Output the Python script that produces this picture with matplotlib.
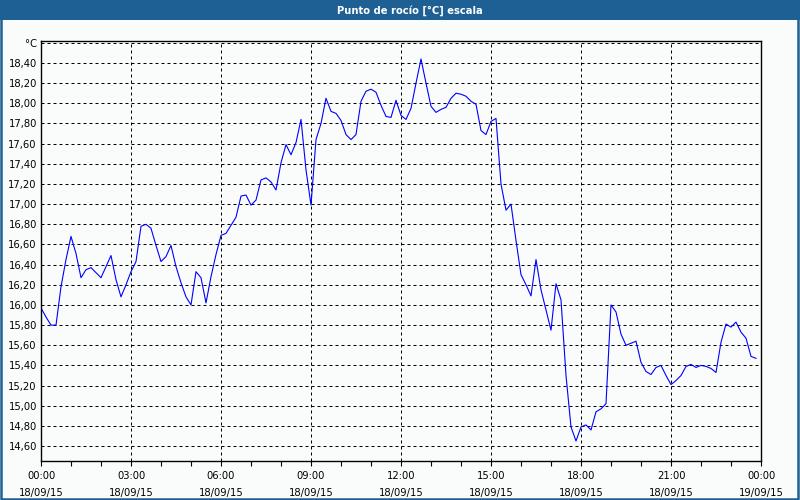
import matplotlib
matplotlib.use("Agg")
import matplotlib.pyplot as plt
import matplotlib.dates as mdates
from matplotlib.patches import Rectangle
import numpy as np
import pandas as pd

title = "Punto de rocío [°C] escala"
start = "2015-09-18 00:00"
step_minutes = 10
dew_point = [
    15.97, 15.88, 15.80, 15.80, 16.18, 16.45, 16.68, 16.51, 16.27, 16.35,
    16.37, 16.32, 16.27, 16.38, 16.49, 16.25, 16.08, 16.20, 16.33, 16.43,
    16.78, 16.80, 16.76, 16.59, 16.43, 16.48, 16.59, 16.38, 16.22, 16.08,
    16.00, 16.33, 16.27, 16.02, 16.28, 16.50, 16.69, 16.71, 16.79, 16.87,
    17.08, 17.09, 16.99, 17.04, 17.24, 17.26, 17.22, 17.14, 17.41, 17.59,
    17.49, 17.61, 17.84, 17.34, 16.99, 17.64, 17.80, 18.05, 17.92, 17.90,
    17.83, 17.69, 17.64, 17.69, 18.02, 18.12, 18.14, 18.11, 17.98, 17.87,
    17.86, 18.03, 17.88, 17.84, 17.95, 18.20, 18.44, 18.20, 17.97, 17.91,
    17.94, 17.96, 18.05, 18.10, 18.09, 18.07, 18.02, 17.99, 17.73, 17.69,
    17.82, 17.85, 17.20, 16.94, 17.00, 16.64, 16.30, 16.20, 16.09, 16.45,
    16.15, 15.95, 15.75, 16.21, 16.05, 15.30, 14.79, 14.65, 14.79, 14.81,
    14.76, 14.94, 14.97, 15.02, 16.00, 15.93, 15.71, 15.60, 15.62, 15.64,
    15.43, 15.34, 15.31, 15.38, 15.40, 15.30, 15.21, 15.25, 15.30, 15.39,
    15.41, 15.38, 15.40, 15.39, 15.37, 15.33, 15.63, 15.81, 15.78, 15.83,
    15.73, 15.67, 15.49, 15.47,
]
y_ticks = [14.6, 14.8, 15.0, 15.2, 15.4, 15.6, 15.8, 16.0, 16.2, 16.4,
           16.6, 16.8, 17.0, 17.2, 17.4, 17.6, 17.8, 18.0, 18.2, 18.4, 18.6]
y_tick_labels = ["14,60", "14,80", "15,00", "15,20", "15,40", "15,60", "15,80",
                 "16,00", "16,20", "16,40", "16,60", "16,80", "17,00", "17,20",
                 "17,40", "17,60", "17,80", "18,00", "18,20", "18,40", "°C"]
x_tick_times = ["2015-09-18 00:00", "2015-09-18 03:00", "2015-09-18 06:00",
                "2015-09-18 09:00", "2015-09-18 12:00", "2015-09-18 15:00",
                "2015-09-18 18:00", "2015-09-18 21:00", "2015-09-19 00:00"]
x_tick_labels = ["00:00\n18/09/15", "03:00\n18/09/15", "06:00\n18/09/15",
                 "09:00\n18/09/15", "12:00\n18/09/15", "15:00\n18/09/15",
                 "18:00\n18/09/15", "21:00\n18/09/15", "00:00\n19/09/15"]

times = pd.date_range(start, periods=len(dew_point), freq=f"{step_minutes}min")

bg = "#fafcfc"
bar = "#1e5f94"
fig = plt.figure(figsize=(8, 5), dpi=100, facecolor=bg)

# title bar and frame
fig.patches.append(Rectangle((0, 1 - 20 / 500), 1, 20 / 500, transform=fig.transFigure,
                             facecolor=bar, edgecolor="none", zorder=0))
fig.patches.append(Rectangle((0.5 / 800, 1 / 500), 797.5 / 800, 497 / 500, transform=fig.transFigure,
                             facecolor="none", edgecolor=bar, linewidth=1.8, zorder=0))
fig.text(410 / 800, 1 - 10.5 / 500, title, color="white", fontsize=7.2, fontweight="bold",
         ha="center", va="center", family="DejaVu Sans")

ax = fig.add_axes([41 / 800, 1 - 461 / 500, 720 / 800, 420 / 500])
ax.set_facecolor(bg)
ax.plot(times, dew_point, color="#0000ff", linewidth=0.8)

xt = pd.to_datetime(x_tick_times)
ax.set_xlim(xt[0], xt[-1])
ax.set_ylim(14.452, 18.618)
ax.set_xticks(xt)
ax.set_xticklabels(x_tick_labels, fontsize=7.2, linespacing=1.85)
ax.xaxis.set_minor_locator(mdates.HourLocator())
ax.set_yticks(y_ticks)
ax.set_yticklabels(y_tick_labels, fontsize=7.2)

ax.tick_params(axis="x", which="both", direction="out", length=3.5, width=0.8,
               pad=3.5, colors="black")
ax.tick_params(axis="y", which="both", length=0, pad=3)
ax.grid(True, which="major", color="black", linewidth=0.72, linestyle=(0, (3, 3)))
ax.set_axisbelow(True)
for s in ax.spines.values():
    s.set_linewidth(1.0)
    s.set_color("black")

fig.savefig("out.png", dpi=100, facecolor=bg)
